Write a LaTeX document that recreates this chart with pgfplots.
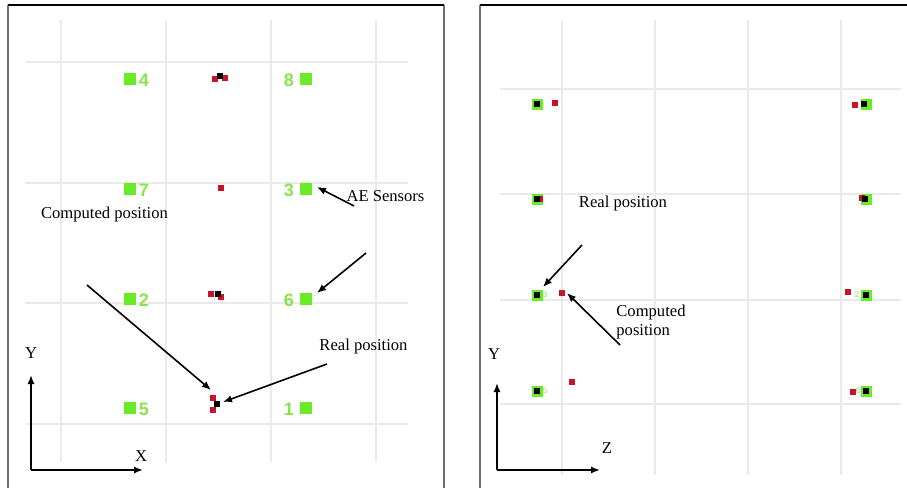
\documentclass[border=0pt]{standalone}
\usepackage{pgfplots}
\pgfplotsset{compat=1.18}
\usetikzlibrary{arrows.meta}
\usepackage{fontspec}
\setmainfont{Liberation Serif}
\newfontfamily\arial{Liberation Sans}
\definecolor{sgreen}{RGB}{105,235,40}
\definecolor{lgreen}{RGB}{135,230,75}
\definecolor{pred}{RGB}{200,20,40}
\definecolor{gridc}{RGB}{234,234,237}
\definecolor{bord}{RGB}{110,110,110}
\begin{document}
\begin{tikzpicture}
\begin{axis}[
  scale only axis, width=453.5pt, height=244pt,
  xmin=0, xmax=907, ymin=0, ymax=488, y dir=reverse,
  hide axis, clip=false, unbounded coords=jump,
]
\draw[fill=white, draw=none] (axis cs:0,0) rectangle (axis cs:907,488);
\coordinate (bl) at (axis cs:0,488);
\coordinate (tr) at (axis cs:907,0);
% grid lines
\addplot[gridc, line width=0.6pt] coordinates {
 (61,20) (61,462) (61,nan)
 (166,20) (166,462) (166,nan)
 (271,20) (271,462) (271,nan)
 (376,20) (376,462) (376,nan)
 (25,62) (408,62) (408,nan)
 (25,183) (408,183) (408,nan)
 (25,303) (408,303) (408,nan)
 (25,424) (408,424) (408,nan)
 (562,20) (562,475) (562,nan)
 (655,20) (655,475) (655,nan)
 (748,20) (748,475) (748,nan)
 (841,20) (841,475) (841,nan)
 (500,89) (901,89) (901,nan)
 (500,194) (901,194) (901,nan)
 (500,300) (901,300) (901,nan)
 (500,404) (901,404)
};
% panel borders
\addplot[bord, line width=1pt] coordinates {(8,488) (8,5) (8,nan) (444,5) (444,488) (444,nan) (480,5) (480,488)};
\addplot[black, line width=1pt] coordinates {(8,5) (444,5) (444,nan) (480,5) (907,5)};
% sensors (green)
\addplot[only marks, mark=square*, mark size=2.75pt, color=sgreen] coordinates {
 (130,79) (306,79) (130,189) (306,189) (130,299) (306,299) (130,408) (306,408)};
\addplot[only marks, mark=square*, mark size=2.5pt, color=sgreen] coordinates {
 (537,104) (866,104) (537,199) (866,199) (537,295) (866,295) (537,391) (866,391)};
% computed positions (red)
\addplot[only marks, mark=square*, mark size=1.35pt, color=pred] coordinates {
 (215,79) (225,78) (221,188) (211,294) (221,297) (213,398) (213,410)
 (555,103) (855,105) (540,199) (862,198) (562,293) (848,292) (572,382) (853,392)};
% real positions (black)
\addplot[only marks, mark=square*, mark size=1.1pt, color=black] coordinates {
 (220,76) (218,294) (217,404)
 (537,104) (864,104) (537,199) (865,199) (537,295) (866,295) (537,391) (866,391)};
% sensor numbers
\begin{scope}[font=\arial\bfseries\fontsize{9}{9}\selectfont, text=lgreen]
\node at (axis cs:144,80) {4};
\node at (axis cs:289,80) {8};
\node at (axis cs:144,190) {7};
\node at (axis cs:289,190) {3};
\node at (axis cs:144,300) {2};
\node at (axis cs:289,300) {6};
\node at (axis cs:144,409) {5};
\node at (axis cs:289,409) {1};
\end{scope}
\begin{scope}[font=\arial\fontsize{4}{4}\selectfont, text=lgreen]
\node at (axis cs:545,295) {3};
\node at (axis cs:545,391) {5};
\node at (axis cs:857,295) {2};
\node at (axis cs:858,391) {6};
\end{scope}
% annotations
\begin{scope}[font=\fontsize{8.3}{9.6}\selectfont]
\node at (axis cs:104.5,215) {Computed position};
\node at (axis cs:385.5,196) {AE Sensors};
\node at (axis cs:363.5,347) {Real position};
\node at (axis cs:31,353) {Y};
\node at (axis cs:141,456) {X};
\node at (axis cs:623,204) {Real position};
\node[anchor=west, align=left, inner xsep=0pt] at (axis cs:616,322) {Computed\\position};
\node at (axis cs:494,354) {Y};
\node at (axis cs:607,448) {Z};
\end{scope}
\begin{scope}[line width=0.8pt, -{Latex[length=4.5pt,width=3.6pt]}]
\draw (axis cs:87,285) -- (axis cs:211,390);
\draw (axis cs:327,364) -- (axis cs:223,402);
\draw (axis cs:354,206) -- (axis cs:317,187);
\draw (axis cs:366,253) -- (axis cs:317,293);
\draw (axis cs:582,245) -- (axis cs:543,287);
\draw (axis cs:620,345) -- (axis cs:567,293);
\end{scope}
\begin{scope}[line width=1pt, -{Latex[length=4.5pt,width=3.6pt]}]
\draw (axis cs:31,470) -- (axis cs:31,375);
\draw (axis cs:31,470) -- (axis cs:143,470);
\draw (axis cs:497,470) -- (axis cs:497,383);
\draw (axis cs:497,470) -- (axis cs:600,470);
\end{scope}
\end{axis}
\pgfresetboundingbox
\path (bl) rectangle (tr);
\end{tikzpicture}
\end{document}
